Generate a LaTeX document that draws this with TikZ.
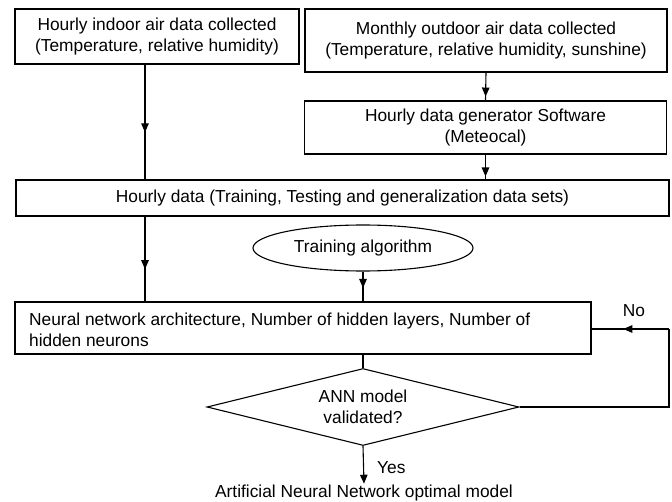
\documentclass[tikz,border=0pt]{standalone}
\usepackage{fontspec}
\setmainfont{Liberation Sans}
\usetikzlibrary{shapes.geometric,arrows.meta,decorations.markings}

\begin{document}
\begin{tikzpicture}[x=1bp,y=-1bp,
  every node/.style={font=\fontsize{17.4}{21}\selectfont, inner sep=0pt},
  procbox/.style={draw, line width=1.1bp, align=center},
  link/.style={draw, line width=1.1bp},
  midarrow/.style={postaction={decorate},
    decoration={markings, mark=at position #1 with {\arrow{Triangle[length=9bp,width=7.5bp]}}}}
]
\useasboundingbox (0,0) rectangle (672,502);

% data sources
\node[procbox, minimum width=284bp, minimum height=55bp] (indoor) at (157,36.5)
  {Hourly indoor air data collected\\(Temperature, relative humidity)};
\node[procbox, minimum width=362bp, minimum height=63bp] (outdoor) at (486,40.5)
  {Monthly outdoor air data collected\\(Temperature, relative humidity, sunshine)};
\node[procbox, minimum width=362bp, minimum height=53bp] (gen) at (485.5,127.5)
  {Hourly data generator Software\\(Meteocal)};
\node[procbox, minimum width=653bp, minimum height=36bp] (hourly) at (342.5,198)
  {Hourly data (Training, Testing and generalization data sets)};

% training
\node[draw, line width=1.1bp, ellipse, minimum width=220bp, minimum height=46bp] (algo) at (363,248)
  {Training algorithm};
\node[procbox, minimum width=576bp, minimum height=52bp] (arch) at (303,328) {};
\node[anchor=west, align=left] (archtext) at (29,329.5)
  {Neural network architecture, Number of hidden layers, Number of\\hidden neurons};

% validation
\node[draw, line width=1.1bp, diamond, aspect=4, minimum width=312bp, minimum height=77bp, align=center] (check) at (363,407)
  {ANN model\\validated?};
\node[inner sep=1bp] (final) at (364,493) {Artificial Neural Network optimal model};

% column of the left-hand arrows
\coordinate (lx) at (145,0);

\draw[link, midarrow=0.59] (indoor.south -| lx) -- (hourly.north -| lx);
\draw[link, midarrow=0.86] (outdoor.south) -- (gen.north);
\draw[link, midarrow=0.88] (gen.south) -- (gen.south |- hourly.north);
\draw[link, midarrow=0.62] (hourly.south -| lx) -- (arch.north -| lx);
\draw[link, midarrow=0.55] (algo.south) -- (algo.south |- arch.north);
\draw[link] (arch.south -| check.north) -- (check.north);

% feedback loop
\coordinate (loopx) at (669,0);
\coordinate (loopy) at (0,329);
\draw[link] (check.east) -- (check.east -| loopx) -- (loopx |- loopy);
\draw[link, midarrow=0.59] (loopx |- loopy) -- (arch.east |- loopy);
\node (no) at (634,311) {No};

\draw[link, -{Triangle[length=9bp,width=7.5bp]}] (check.south) -- (final.north);
\node[anchor=west] (yes) at (377,468) {Yes};
\end{tikzpicture}
\end{document}
